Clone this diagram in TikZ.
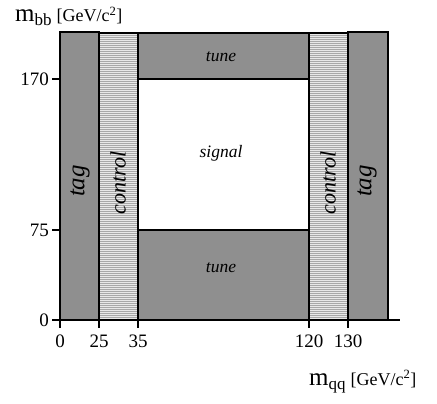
\documentclass[tikz,border=0pt]{standalone}
\usepackage{fontspec}
\setmainfont{Liberation Serif}
\usetikzlibrary{positioning}
\definecolor{band}{HTML}{8F8F8F}
\definecolor{hatch}{HTML}{E8E8E8}
\definecolor{hatchline}{HTML}{A8A8A8}
\tikzset{
  region/.style={draw=black, line width=1.4pt, fill=band},
  ctrl/.style={draw=black, line width=1.4pt},
  axis/.style={line width=1.4pt},
  vlab/.style={font=\fontsize{22pt}{24pt}\selectfont\itshape, rotate=90},
  glab/.style={font=\fontsize{25pt}{27pt}\selectfont\itshape, rotate=90},
  slab/.style={font=\fontsize{17.5pt}{19pt}\selectfont\itshape},
  tlab/.style={font=\fontsize{19pt}{21pt}\selectfont},
}
\newcommand{\axtitle}[1]{{\fontsize{25pt}{27pt}\selectfont m}\raisebox{-4pt}{\fontsize{17pt}{19pt}\selectfont #1}\hspace{5pt}{\fontsize{18pt}{20pt}\selectfont [GeV/c\textsuperscript{2}]}}

\begin{document}
\begin{tikzpicture}[x=1pt,y=-1pt]
  \useasboundingbox (0,0) rectangle (437,404);
  % tag bands
  \draw[region] (60,32) rectangle (99,320);
  \draw[region] (348,32) rectangle (388,320);
  % tune bands
  \draw[region] (138,33) rectangle (309,79);
  \draw[region] (138,230) rectangle (309,320);
  % control bands, hatched
  \foreach \xa/\xb in {99/138, 309/348} {
    \fill[hatch] (\xa,33) rectangle (\xb,320);
    \foreach \y in {35,37,...,319}
      \draw[hatchline, line width=0.6pt] (\xa,\y) -- (\xb,\y);
    \draw[ctrl] (\xa,33) rectangle (\xb,320);
  }
  % labels
  \node[glab] (tagL) at (80,181) {tag};
  \node[vlab] (ctrlL) at (118,183) {control};
  \node[vlab] (ctrlR) at (328,183) {control};
  \node[glab] (tagR) at (367,181) {tag};
  \node[slab] (tuneT) at (221,57) {tune};
  \node[slab] (tuneB) at (221,268) {tune};
  \node[slab] (sig) at (221,153) {signal};
  % axes
  \draw[axis] (60,32) -- (60,320) -- (400,320);
  \foreach \y/\t in {79/170, 230/75, 320/0} {
    \draw[axis] (52,\y) -- (60,\y);
    \node[tlab, anchor=east, inner sep=0pt] at (49,\y) {\t};
  }
  \foreach \x/\t in {60/0, 99/25, 138/35, 309/120, 348/130} {
    \draw[axis] (\x,320) -- (\x,328);
    \node[tlab, anchor=base, inner sep=0pt] at (\x,347) {\t};
  }
  \node[anchor=base west, inner sep=0pt] (ytitle) at (15,22) {\axtitle{bb}};
  \node[anchor=base west, inner sep=0pt] (xtitle) at (309,385) {\axtitle{qq}};
\end{tikzpicture}
\end{document}
